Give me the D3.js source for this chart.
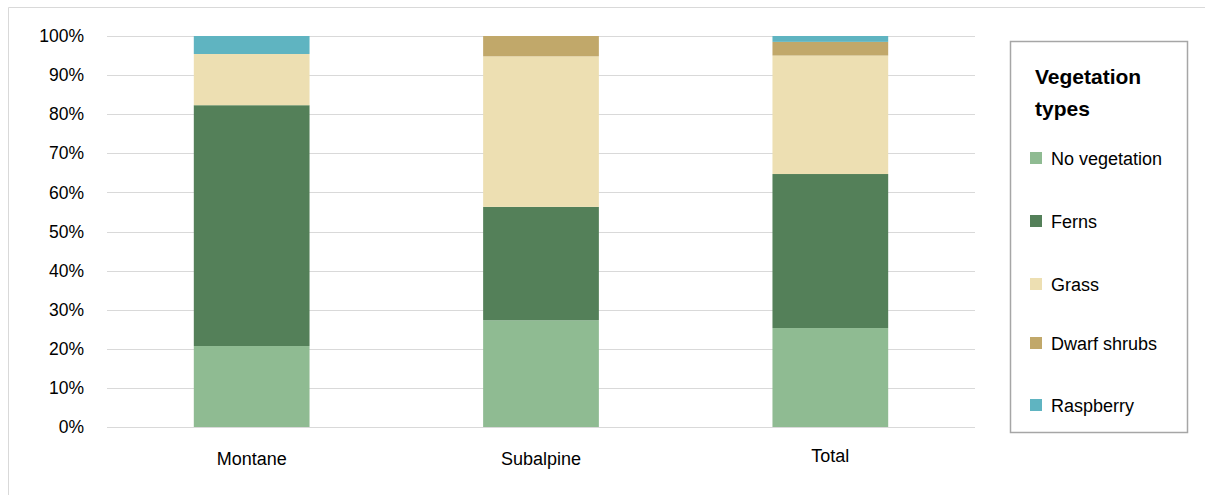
<!DOCTYPE html>
<html>
<head>
<meta charset="utf-8">
<script src="https://cdn.jsdelivr.net/npm/d3@7"></script>
<style>
  html, body { margin: 0; padding: 0; background: #fff; }
  svg { display: block; font-family: "Liberation Sans", Arial, sans-serif; }
</style>
</head>
<body>
<svg id="chart" width="1205" height="495"></svg>
<script>
// Share of plots by vegetation type in each zone (percent)
const categories = ["Montane", "Subalpine", "Total"];
const seriesNames = ["No vegetation", "Ferns", "Grass", "Dwarf shrubs", "Raspberry"];
const noVegetation = [20.7, 27.3, 25.3];
const ferns        = [61.6, 29.0, 39.4];
const grass        = [13.1, 38.5, 30.3];
const dwarfShrubs  = [0.0,  5.2,  3.5];
const raspberry    = [4.6,  0.0,  1.5];
const tickValues   = [0, 10, 20, 30, 40, 50, 60, 70, 80, 90, 100];
const colors = ["#8FBB92", "#548059", "#EDDFB2", "#C1A86A", "#5FB4C1"];

const seriesValues = [noVegetation, ferns, grass, dwarfShrubs, raspberry];
const rows = categories.map((c, i) => {
  const r = { category: c };
  seriesNames.forEach((s, j) => { r[s] = seriesValues[j][i]; });
  return r;
});

const svg = d3.select("#chart");
const W = 1205, H = 495;
const margin = { left: 107, right: 230, top: 36, bottom: 68 };

// Chart frame (top and left edges)
svg.append("path")
  .attr("d", `M8.5,${H} V7.5 H${W}`)
  .attr("fill", "none").attr("stroke", "#d9d9d9").attr("stroke-width", 1);

const x = d3.scaleBand()
  .domain(categories)
  .range([margin.left, W - margin.right])
  .paddingInner(0.6).paddingOuter(0.3);

const y = d3.scaleLinear()
  .domain([0, 100])
  .range([H - margin.bottom, margin.top]);

// Gridlines
svg.append("g")
  .selectAll("line")
  .data(tickValues)
  .join("line")
  .attr("x1", margin.left).attr("x2", W - margin.right)
  .attr("y1", d => Math.round(y(d)) + 0.5).attr("y2", d => Math.round(y(d)) + 0.5)
  .attr("stroke", "#d9d9d9").attr("stroke-width", 1);

// Y axis labels
const yAxis = d3.axisLeft(y).tickValues(tickValues).tickFormat(d => d + "%").tickSize(0).tickPadding(23);
const gy = svg.append("g").attr("transform", `translate(${margin.left},0)`).call(yAxis);
gy.select(".domain").remove();
gy.selectAll("text").attr("font-size", 17.5).attr("fill", "#000")
  .attr("font-family", "'Liberation Sans', Arial, sans-serif");

// Stacked bars
const stack = d3.stack().keys(seriesNames);
const layers = stack(rows);
const color = d3.scaleOrdinal().domain(seriesNames).range(colors);

svg.append("g")
  .selectAll("g")
  .data(layers)
  .join("g")
  .attr("fill", d => color(d.key))
  .selectAll("rect")
  .data(d => d)
  .join("rect")
  .attr("x", d => x(d.data.category))
  .attr("width", x.bandwidth())
  .attr("y", d => y(d[1]))
  .attr("height", d => Math.max(0, y(d[0]) - y(d[1])));

// X axis labels
const xAxis = d3.axisBottom(x).tickSize(0).tickPadding(25);
const gx = svg.append("g").attr("transform", `translate(0,${H - margin.bottom})`).call(xAxis);
gx.select(".domain").remove();
gx.selectAll("text").attr("font-size", 18).attr("fill", "#000")
  .attr("font-family", "'Liberation Sans', Arial, sans-serif")
  .attr("y", d => d === "Total" ? 22 : 25);

// Legend
const lg = svg.append("g");
lg.append("rect")
  .attr("x", 1010.5).attr("y", 41.5).attr("width", 177).attr("height", 391)
  .attr("fill", "#fff").attr("stroke", "#a6a6a6").attr("stroke-width", 1.5);
lg.append("text").attr("x", 1035).attr("y", 84)
  .attr("font-size", 21).attr("font-weight", "bold").text("Vegetation");
lg.append("text").attr("x", 1035).attr("y", 116)
  .attr("font-size", 21).attr("font-weight", "bold").text("types");

const legendY = [158, 221, 284, 343, 405];
const items = lg.selectAll("g.item")
  .data(seriesNames)
  .join("g").attr("class", "item")
  .attr("transform", (d, i) => `translate(1030,${legendY[i]})`);
items.append("rect").attr("x", 0).attr("y", -6).attr("width", 12).attr("height", 12)
  .attr("fill", d => color(d));
items.append("text").attr("x", 21).attr("y", 6.5)
  .attr("font-size", 18).attr("fill", "#000").text(d => d);
</script>
</body>
</html>
